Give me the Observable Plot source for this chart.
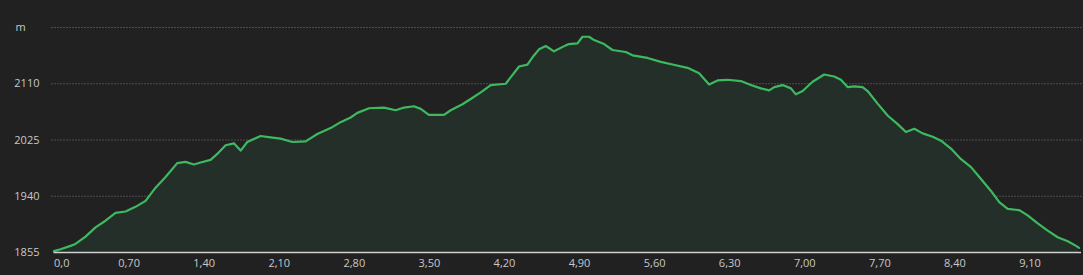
<!DOCTYPE html>
<html>
<head>
<meta charset="utf-8">
<script src="https://cdn.jsdelivr.net/npm/d3@7"></script>
<script src="https://cdn.jsdelivr.net/npm/@observablehq/plot@0.6"></script>
<style>
  html, body { margin: 0; padding: 0; background: #212121; }
  #chart { width: 1083px; height: 275px; }
</style>
</head>
<body>
<div id="chart"></div>
<script>
// Distance along the route (km)
const distKm = [0,0.061,0.154,0.20,0.294,0.387,0.480,0.574,0.667,0.760,0.854,0.947,1.040,1.149,1.227,1.304,1.367,1.460,1.522,1.600,1.677,1.740,1.802,1.926,2.019,2.113,2.222,2.346,2.455,2.579,2.672,2.766,2.828,2.937,3.077,3.186,3.263,3.356,3.419,3.496,3.636,3.699,3.808,3.885,3.979,4.072,4.212,4.259,4.336,4.414,4.461,4.522,4.585,4.662,4.771,4.802,4.881,4.927,4.989,5.035,5.129,5.207,5.331,5.394,5.534,5.658,5.798,5.907,6.015,6.108,6.187,6.280,6.404,6.497,6.591,6.668,6.715,6.793,6.871,6.917,6.980,7.073,7.181,7.274,7.337,7.399,7.461,7.539,7.586,7.679,7.772,7.866,7.943,8.021,8.099,8.193,8.270,8.363,8.457,8.550,8.643,8.736,8.813,8.892,9.000,9.078,9.172,9.265,9.358,9.452,9.529,9.557];
// Elevation (m)
const elevM = [1857,1860,1865,1868,1879,1893,1903,1915,1917,1924,1933,1953,1969,1990,1992,1988,1991,1995,2004,2017,2020,2009,2022,2031,2029,2027,2022,2023,2034,2043,2052,2059,2066,2073,2074,2070,2074,2076,2072,2063,2063,2070,2079,2087,2097,2108,2110,2120,2136,2139,2150,2162,2167,2159,2168,2170,2171,2181,2181,2176,2170,2161,2158,2153,2149,2143,2138,2134,2126,2109,2115,2116,2114,2108,2103,2100,2105,2108,2103,2094,2099,2113,2124,2121,2116,2105,2106,2105,2099,2080,2062,2049,2037,2042,2035,2030,2024,2012,1996,1984,1966,1948,1931,1921,1919,1911,1899,1888,1878,1872,1865,1862];

const xTickValues = [0,0.7,1.4,2.1,2.8,3.5,4.2,4.9,5.6,6.3,7.0,7.7,8.4,9.1];
const xTickLabels = ["0,0","0,70","1,40","2,10","2,80","3,50","4,20","4,90","5,60","6,30","7,00","7,70","8,40","9,10"];
const yTickValues = [1855,1940,2025,2110,2195];
const yUnitLabel = "m";

const data = distKm.map((d, i) => ({km: d, ele: elevM[i]}));
const labelOf = new Map(xTickValues.map((v, i) => [v, xTickLabels[i]]));

const font = "'Open Sans', sans-serif";
const labelColor = "#c8c8c8";

const chart = Plot.plot({
  width: 1083,
  height: 275,
  marginLeft: 53.5,
  marginRight: 2,
  marginTop: 27,
  marginBottom: 23,
  style: {background: "#212121", fontFamily: font, fontSize: "11px", color: labelColor},
  x: {domain: [0, 9.58]},
  y: {domain: [1855, 2195]},
  marks: [
    Plot.ruleY(yTickValues.slice(1), {stroke: "#7a7a7a", strokeWidth: 1, strokeDasharray: "1,2", insetLeft: -2, insetRight: -2}),
    Plot.areaY(data, {x: "km", y1: 1855, y2: "ele", fill: "#232f28"}),
    Plot.line(data, {x: "km", y: "ele", stroke: "#3dba60", strokeWidth: 2.2, strokeLinejoin: "round"}),
    Plot.ruleY([1855], {stroke: "#d0d0d0", strokeWidth: 1.5}),
    Plot.axisY(yTickValues.slice(0, 4), {tickSize: 0, tickPadding: 14.5, label: null, tickFormat: d => String(d), fill: labelColor, fontSize: 11}),
    Plot.text([yTickValues[4]], {y: d => d, frameAnchor: "left", dx: -38.5, textAnchor: "start", text: () => yUnitLabel, fill: labelColor, fontSize: 11}),
    Plot.axisX(xTickValues.slice(1), {tickSize: 0, tickPadding: 7, label: null, tickFormat: d => labelOf.get(d), fill: labelColor, fontSize: 11}),
    Plot.axisX([xTickValues[0]], {tickSize: 0, tickPadding: 7, label: null, tickFormat: d => labelOf.get(d), textAnchor: "start", fill: labelColor, fontSize: 11})
  ]
});
document.getElementById("chart").appendChild(chart);
</script>
</body>
</html>
